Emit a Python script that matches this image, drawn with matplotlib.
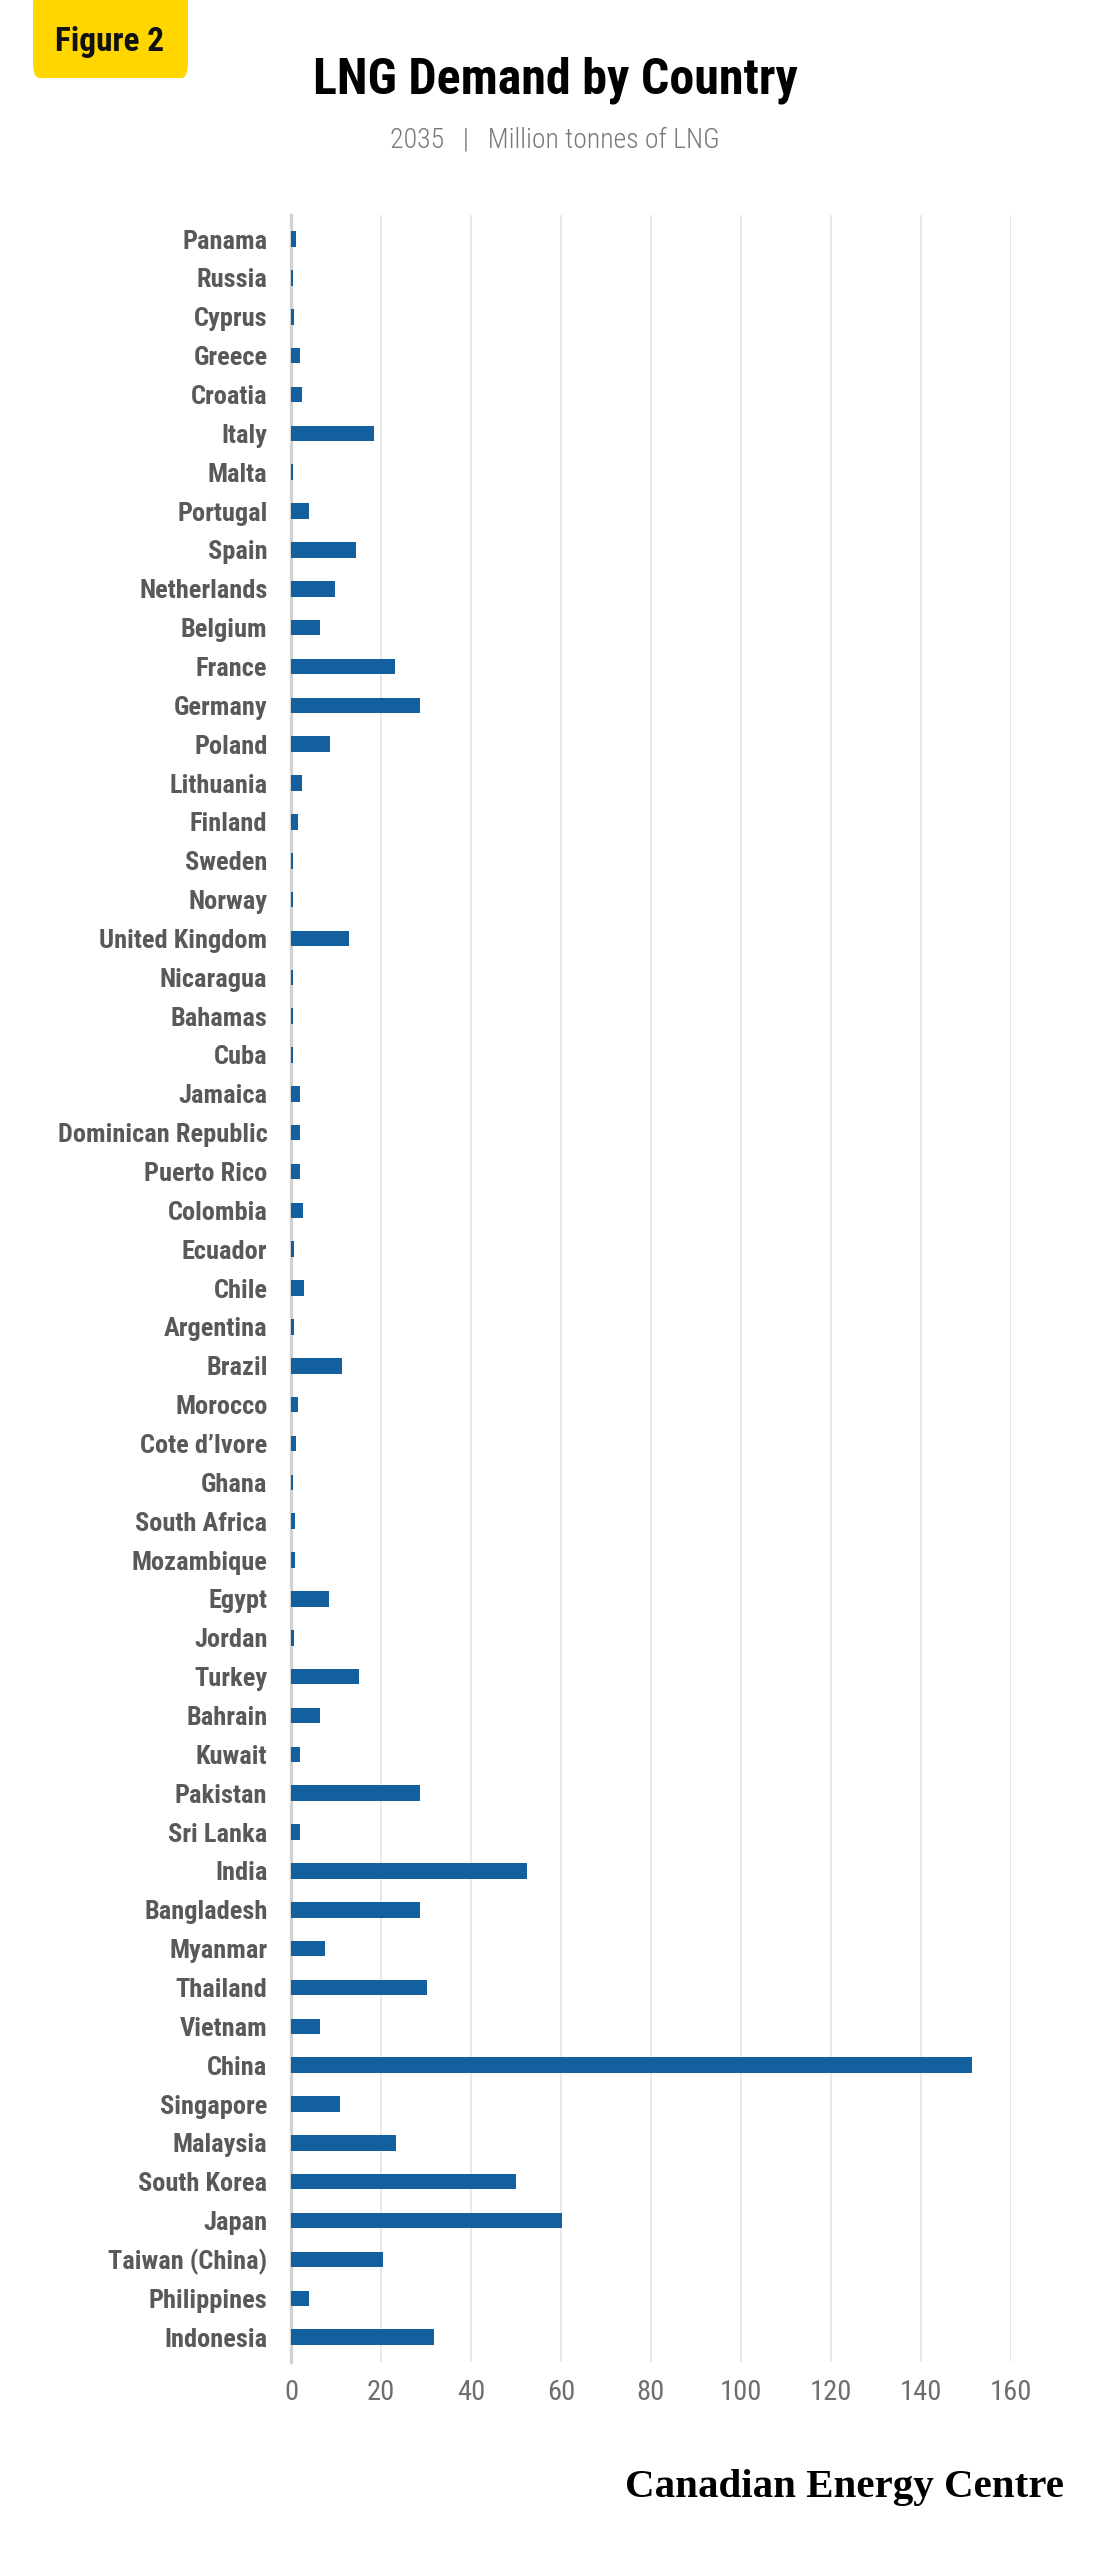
import matplotlib
matplotlib.use('Agg')
import numpy as np
import matplotlib.pyplot as plt
from matplotlib import font_manager
from matplotlib.patches import FancyBboxPatch

# data (million tonnes of LNG, 2035), top to bottom
countries = ['Panama', 'Russia', 'Cyprus', 'Greece', 'Croatia', 'Italy', 'Malta',
             'Portugal', 'Spain', 'Netherlands', 'Belgium', 'France', 'Germany',
             'Poland', 'Lithuania', 'Finland', 'Sweden', 'Norway', 'United Kingdom',
             'Nicaragua', 'Bahamas', 'Cuba', 'Jamaica', 'Dominican Republic',
             'Puerto Rico', 'Colombia', 'Ecuador', 'Chile', 'Argentina', 'Brazil',
             'Morocco', 'Cote d\u2019Ivore', 'Ghana', 'South Africa', 'Mozambique',
             'Egypt', 'Jordan', 'Turkey', 'Bahrain', 'Kuwait', 'Pakistan',
             'Sri Lanka', 'India', 'Bangladesh', 'Myanmar', 'Thailand', 'Vietnam',
             'China', 'Singapore', 'Malaysia', 'South Korea', 'Japan',
             'Taiwan (China)', 'Philippines', 'Indonesia']
demand = [1.0, 0.5, 0.7, 2.1, 2.4, 18.4, 0.4, 4.0, 14.5, 9.8, 6.5, 23.1, 28.7,
          8.7, 2.4, 1.5, 0.4, 0.4, 12.8, 0.4, 0.4, 0.4, 1.9, 1.9, 1.9, 2.6, 0.7,
          2.8, 0.7, 11.3, 1.5, 1.2, 0.4, 0.9, 0.9, 8.4, 0.7, 15.0, 6.5, 2.1, 28.7,
          1.9, 52.4, 28.6, 7.5, 30.2, 6.4, 151.3, 10.8, 23.3, 49.9, 60.3, 20.5,
          3.9, 31.8]
xticks = [0, 20, 40, 60, 80, 100, 120, 140, 160]

# pick a narrow face if one is installed
names = {f.name for f in font_manager.fontManager.ttflist}
def pick(*cands):
    for c in cands:
        if c in names:
            return c
    return 'DejaVu Sans'

cond = pick('Roboto Condensed', 'Liberation Sans Narrow', 'DejaVu Sans Condensed',
            'Open Sans Condensed', 'Noto Sans Condensed', 'DejaVu Sans')
serif = pick('DejaVu Serif Condensed', 'Liberation Serif', 'DejaVu Serif')

W, H = 1107, 2560
fig = plt.figure(figsize=(W / 100, H / 100), dpi=100)
fig.patch.set_facecolor('white')

# axes placed in pixel terms
left, right, top, bottom = 291, 1011, 215, 2362
ax = fig.add_axes([left / W, 1 - bottom / H, (right - left) / W, (bottom - top) / H])

y = np.arange(len(countries))
ax.barh(y, demand, height=0.4, color='#14609f', zorder=3)
ax.set_xlim(0, 160)
ax.set_ylim(len(countries) - 1 + 0.64, -0.62)

ax.set_xticks(xticks)
ax.set_xticklabels([str(t) for t in xticks])
ax.set_yticks(y)
ax.set_yticklabels(countries)
ax.xaxis.grid(True, color='#e4e4e4', linewidth=1.2, zorder=0)
ax.set_axisbelow(True)
for s in ax.spines.values():
    s.set_visible(False)
ax.axvline(0, color='#d2d2d2', linewidth=2.4, zorder=2, clip_on=False)
ax.tick_params(axis='both', length=0)
ax.tick_params(axis='y', pad=17)
ax.tick_params(axis='x', pad=12)
for lab in ax.get_yticklabels():
    lab.set_fontfamily(cond)
    lab.set_fontweight('bold')
    lab.set_fontsize(19)
    lab.set_color('#58595b')
for lab in ax.get_xticklabels():
    lab.set_fontfamily(cond)
    lab.set_fontsize(20.5)
    lab.set_color('#6d6e71')

# yellow "Figure 2" badge
badge = FancyBboxPatch((33 / W, 1 - 78 / H), 155 / W, 90 / H,
                       boxstyle='round,pad=0,rounding_size=0.006',
                       transform=fig.transFigure, facecolor='#ffd600',
                       edgecolor='none', zorder=1)
fig.patches.append(badge)
fig.text(110 / W, 1 - 42 / H, 'Figure 2', ha='center', va='center',
         fontsize=24, fontweight='bold', family=cond, color='#111111', zorder=6)

# title and subtitle
fig.text(555 / W, 1 - 80 / H, 'LNG Demand by Country', ha='center', va='center',
         fontsize=36, fontweight='heavy', family=cond, color='black')
fig.text(555 / W, 1 - 140 / H, '2035   |   Million tonnes of LNG', ha='center',
         va='center', fontsize=20, fontweight='light', family=cond, color='#77787b')

# footer
fig.text(1064 / W, 1 - 2488 / H, 'Canadian Energy Centre', ha='right', va='center',
         fontsize=29.5, fontweight='bold', family=serif, color='black')

fig.savefig('out.png', dpi=100)
